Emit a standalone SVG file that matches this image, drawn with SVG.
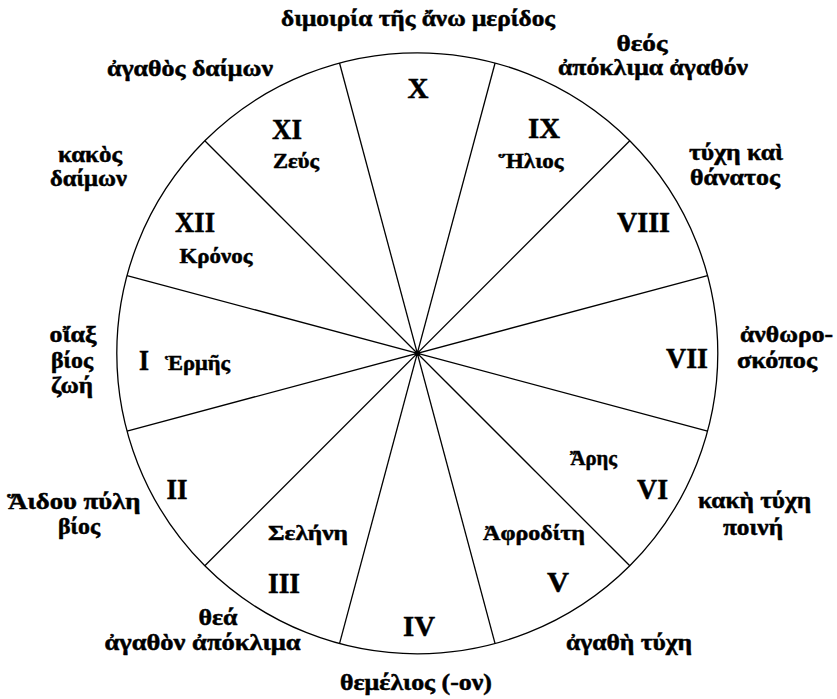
<svg xmlns="http://www.w3.org/2000/svg" width="837" height="699" viewBox="0 0 837 699">
<style>
text{font-family:"Liberation Serif","DejaVu Serif",serif;font-weight:bold;fill:#000;stroke:#000;stroke-width:0.5;text-anchor:middle}
.num{font-size:30px}
.god{font-size:22px}
.lab{font-size:23px}
.ln{stroke:#000;stroke-width:1.3;fill:none}
</style>
<rect width="837" height="699" fill="#fff"/>
<g id="wheel">
<circle class="ln" cx="417.3" cy="353.3" r="300.5" stroke-width="1.6"/>
</g>
<g id="connectors">
<line class="ln" x1="707.56" y1="431.08" x2="127.04" y2="275.52"/>
<line class="ln" x1="629.79" y1="565.79" x2="204.81" y2="140.81"/>
<line class="ln" x1="495.08" y1="643.56" x2="339.52" y2="63.04"/>
<line class="ln" x1="339.52" y1="643.56" x2="495.08" y2="63.04"/>
<line class="ln" x1="204.81" y1="565.79" x2="629.79" y2="140.81"/>
<line class="ln" x1="127.04" y1="431.08" x2="707.56" y2="275.52"/>
<circle cx="417.3" cy="353.3" r="2.8" fill="#000"/>
</g>
<g id="house-I"><text class="num" x="144" y="370" textLength="10" lengthAdjust="spacingAndGlyphs">I</text><text class="god" x="197.5" y="370" textLength="65" lengthAdjust="spacingAndGlyphs">Ἑρμῆς</text></g>
<g id="house-II"><text class="num" x="177" y="499" textLength="21" lengthAdjust="spacingAndGlyphs">II</text></g>
<g id="house-III"><text class="god" x="308" y="540" textLength="80" lengthAdjust="spacingAndGlyphs">Σελήνη</text><text class="num" x="284" y="593" textLength="32" lengthAdjust="spacingAndGlyphs">III</text></g>
<g id="house-IV"><text class="num" x="419" y="636" textLength="32" lengthAdjust="spacingAndGlyphs">IV</text></g>
<g id="house-V"><text class="god" x="534" y="540" textLength="102" lengthAdjust="spacingAndGlyphs">Ἀφροδίτη</text><text class="num" x="558" y="592" textLength="22" lengthAdjust="spacingAndGlyphs">V</text></g>
<g id="house-VI"><text class="god" x="593.5" y="465" textLength="47" lengthAdjust="spacingAndGlyphs">Ἄρης</text><text class="num" x="652.5" y="499" textLength="31" lengthAdjust="spacingAndGlyphs">VI</text></g>
<g id="house-VII"><text class="num" x="687" y="368" textLength="42" lengthAdjust="spacingAndGlyphs">VII</text></g>
<g id="house-VIII"><text class="num" x="643.5" y="232" textLength="53" lengthAdjust="spacingAndGlyphs">VIII</text></g>
<g id="house-IX"><text class="num" x="544" y="137.5" textLength="32" lengthAdjust="spacingAndGlyphs">IX</text><text class="god" x="531" y="168" textLength="65" lengthAdjust="spacingAndGlyphs">Ἥλιος</text></g>
<g id="house-X"><text class="num" x="418" y="98" textLength="21" lengthAdjust="spacingAndGlyphs">X</text></g>
<g id="house-XI"><text class="num" x="287" y="138.5" textLength="30" lengthAdjust="spacingAndGlyphs">XI</text><text class="god" x="296" y="168" textLength="46" lengthAdjust="spacingAndGlyphs">Ζεύς</text></g>
<g id="house-XII"><text class="num" x="195" y="232" textLength="40" lengthAdjust="spacingAndGlyphs">XII</text><text class="god" x="216" y="263" textLength="73" lengthAdjust="spacingAndGlyphs">Κρόνος</text></g>
<g id="outer-labels">
<text class="lab" x="418" y="26" textLength="274" lengthAdjust="spacingAndGlyphs">διμοιρία τῆς ἄνω μερίδος</text>
<text class="lab" x="642" y="51" textLength="51" lengthAdjust="spacingAndGlyphs">θεός</text>
<text class="lab" x="653" y="75" textLength="190" lengthAdjust="spacingAndGlyphs">ἀπόκλιμα ἀγαθόν</text>
<text class="lab" x="190" y="76" textLength="166" lengthAdjust="spacingAndGlyphs">ἀγαθὸς δαίμων</text>
<text class="lab" x="90" y="162" textLength="64" lengthAdjust="spacingAndGlyphs">κακὸς</text>
<text class="lab" x="88.5" y="186" textLength="77" lengthAdjust="spacingAndGlyphs">δαίμων</text>
<text class="lab" x="736" y="160" textLength="94" lengthAdjust="spacingAndGlyphs">τύχη καὶ</text>
<text class="lab" x="735" y="185" textLength="90" lengthAdjust="spacingAndGlyphs">θάνατος</text>
<text class="lab" x="73" y="342" textLength="47" lengthAdjust="spacingAndGlyphs">οἴαξ</text>
<text class="lab" x="72" y="368" textLength="42" lengthAdjust="spacingAndGlyphs">βίος</text>
<text class="lab" x="72" y="393" textLength="42" lengthAdjust="spacingAndGlyphs">ζωή</text>
<text class="lab" x="786.5" y="342" textLength="93" lengthAdjust="spacingAndGlyphs">ἀνθωρο-</text>
<text class="lab" x="777" y="368" textLength="80" lengthAdjust="spacingAndGlyphs">σκόπος</text>
<text class="lab" x="74" y="509" textLength="133" lengthAdjust="spacingAndGlyphs">Ἅιδου πύλη</text>
<text class="lab" x="79" y="534" textLength="42" lengthAdjust="spacingAndGlyphs">βίος</text>
<text class="lab" x="754.5" y="508" textLength="113" lengthAdjust="spacingAndGlyphs">κακὴ τύχη</text>
<text class="lab" x="753" y="535" textLength="60" lengthAdjust="spacingAndGlyphs">ποινή</text>
<text class="lab" x="218" y="625" textLength="39" lengthAdjust="spacingAndGlyphs">θεά</text>
<text class="lab" x="202.5" y="650" textLength="196" lengthAdjust="spacingAndGlyphs">ἀγαθὸν ἀπόκλιμα</text>
<text class="lab" x="629" y="650" textLength="126" lengthAdjust="spacingAndGlyphs">ἀγαθὴ τύχη</text>
<text class="lab" x="416" y="690" textLength="152" lengthAdjust="spacingAndGlyphs">θεμέλιος (-ον)</text>
</g>
</svg>
